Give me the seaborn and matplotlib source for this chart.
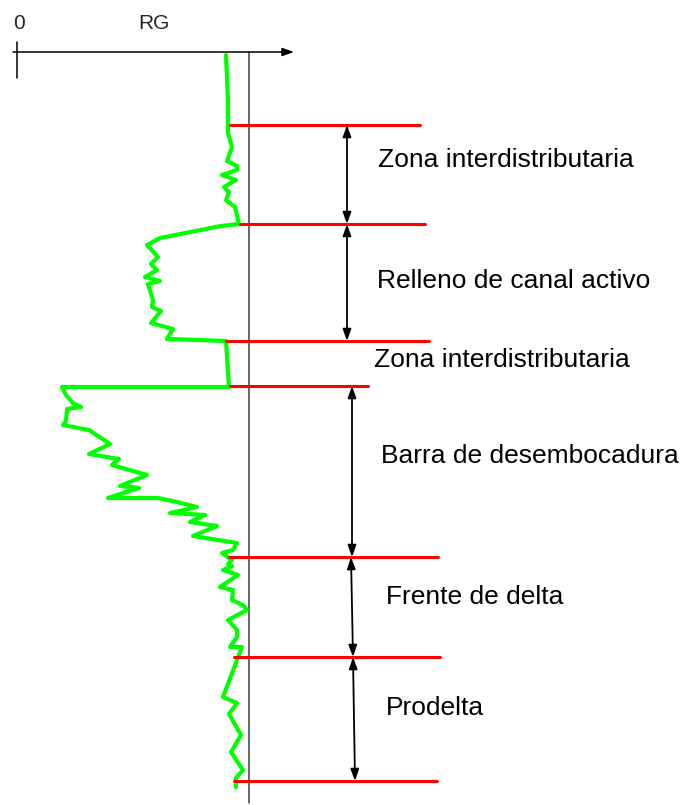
import numpy as np
import matplotlib
matplotlib.use("Agg")
import matplotlib.pyplot as plt
import seaborn as sns

# gamma-ray log (RG), depth grows downward
rg = [209, 211, 211, 215, 210, 220, 220, 205, 219, 207, 212, 209, 218, 222, 204,
      143, 130, 141, 134, 140, 128, 143, 131, 136, 135, 144, 134, 156, 150, 209,
      212, 45, 49, 56, 64, 50, 49, 46, 72, 93, 72, 102, 95, 130, 103, 122, 91,
      141, 160, 180, 153, 188, 173, 200, 176, 220, 216, 205, 215, 211, 215, 206,
      221, 203, 216, 215, 226, 230, 211, 220, 220, 213, 225, 220, 206, 220, 212,
      224, 214, 226, 219, 219]
depth = [3, 48, 81, 95, 109, 114, 118, 123, 128, 135, 140, 148, 155, 172, 174,
         186, 193, 205, 212, 218, 225, 229, 232, 248, 255, 259, 271, 277, 287, 289,
         335, 335, 343, 351, 355, 357, 369, 373, 378, 392, 402, 407, 413, 423, 434,
         436, 446, 446, 450, 455, 461, 463, 470, 474, 484, 491, 498, 501, 508, 512,
         514, 518, 523, 535, 538, 548, 553, 558, 568, 578, 585, 595, 595, 608, 645,
         651, 662, 683, 700, 718, 726, 735]

# facies boundaries (depth) and the names of the intervals
boundaries = [73, 172, 289, 334, 505, 605, 729]
zone_names = ["Zona interdistributaria", "Relleno de canal activo",
              "Zona interdistributaria", "Barra de desembocadura",
              "Frente de delta", "Prodelta"]

# layout only
line_start = [213, 223, 209, 213, 212, 217, 217]
line_end = [403, 408, 412, 351, 421, 423, 420]
arrow_x = [(330, 330), (330, 330), (335, 335), (334, 336), (336, 338)]
arrow_pairs = [(0, 1), (1, 2), (3, 4), (4, 5), (5, 6)]
label_x = [361, 360, 357, 364, 369, 369]
label_base = [115, 236, 315, 411, 552, 663]

sns.set_style("white")
plt.rcParams["font.family"] = ["Liberation Sans", "DejaVu Sans"]

fig = plt.figure(figsize=(6.81, 8.05), dpi=100)
ax = fig.add_axes([0, 0, 1, 1])

sns.lineplot(x=rg, y=depth, sort=False, estimator=None, color="#00ff00",
             linewidth=3, ax=ax, zorder=3)

# reference line of the log
ax.plot([232, 232], [0, 751], color="#404040", lw=1.1, zorder=2)

# RG axis with arrow
ax.annotate("", xy=(277, 0), xytext=(-4, 0),
            arrowprops=dict(arrowstyle="-|>,head_length=0.7,head_width=0.25",
                            color="black", lw=1.1, mutation_scale=10,
                            shrinkA=0, shrinkB=0))
ax.plot([0, 0], [-10, 26], color="black", lw=1.1)
ax.text(-4, -23, "0", fontsize=15, va="baseline", ha="left")
ax.text(121, -23, "RG", fontsize=15, va="baseline", ha="left")

for d, x0, x1 in zip(boundaries, line_start, line_end):
    ax.plot([x0, x1], [d, d], color="#ff0000", lw=2.2, zorder=4)

for (i, j), (xa, xb) in zip(arrow_pairs, arrow_x):
    ax.annotate("", xy=(xa, boundaries[i]), xytext=(xb, boundaries[j]),
                arrowprops=dict(arrowstyle="<|-|>,head_length=0.7,head_width=0.25",
                                color="black", lw=1.3, mutation_scale=10,
                                shrinkA=0, shrinkB=0), zorder=5)

for name, x, y in zip(zone_names, label_x, label_base):
    ax.text(x, y, name, fontsize=19, va="baseline", ha="left", color="black")

ax.set_xlim(-17, 664)
ax.set_ylim(753, -52)
ax.set_axis_off()

fig.savefig("out.png", dpi=100, facecolor="white")
